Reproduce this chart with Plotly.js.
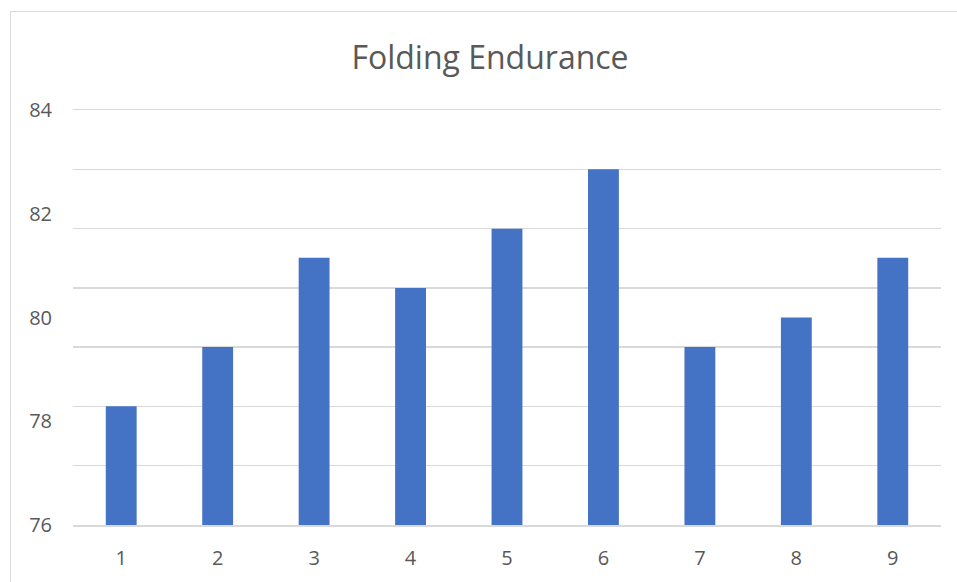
<!DOCTYPE html>
<html>
<head>
<meta charset="utf-8">
<script src="https://cdn.plot.ly/plotly-3.0.1.min.js"></script>
<style>
  html, body { margin: 0; padding: 0; background: #ffffff; }
  #wrap { position: relative; width: 957px; height: 582px; overflow: hidden; }
  #chart { position: absolute; left: 0; top: 0; width: 957px; height: 582px; }
  #frame { position: absolute; left: 10px; top: 11px; width: 960px; height: 600px;
           border-left: 1.5px solid #d9d9d9; border-top: 1.5px solid #d9d9d9; pointer-events: none; }
</style>
</head>
<body>
<div id="wrap">
  <div id="chart"></div>
  <div id="frame"></div>
</div>
<script>
// Folding endurance per sample
const samples = ['1', '2', '3', '4', '5', '6', '7', '8', '9'];
const endurance = [78.29, 79.43, 81.15, 80.57, 81.71, 82.86, 79.43, 80.0, 81.15];

// Value axis labels
const yTicks = [76, 78, 80, 82, 84];
const yRange = [76, 84];
// Horizontal gridline bands drawn on a separate overlay axis
const gridRange = [0, 7];

const labelColor = '#595959';
const gridColor = '#d9d9d9';
const fontFamily = '"Open Sans", "Noto Sans", sans-serif';

const trace = {
  type: 'bar',
  x: samples,
  y: endurance,
  marker: { color: '#4472C4' },
  width: 0.32,
  hoverinfo: 'x+y'
};

// Invisible carrier for the gridline axis
const gridTrace = {
  type: 'scatter',
  x: [samples[0]],
  y: [0],
  yaxis: 'y2',
  mode: 'markers',
  marker: { opacity: 0 },
  hoverinfo: 'skip',
  showlegend: false
};

const layout = {
  width: 957,
  height: 582,
  margin: { l: 73, r: 16, t: 110, b: 57 },
  paper_bgcolor: 'rgba(0,0,0,0)',
  plot_bgcolor: 'rgba(0,0,0,0)',
  showlegend: false,
  title: {
    text: 'Folding Endurance',
    font: { family: fontFamily, size: 32, color: labelColor },
    x: 0.512,
    xanchor: 'center',
    y: 0.9,
    yanchor: 'middle'
  },
  xaxis: {
    type: 'category',
    showgrid: false,
    zeroline: false,
    // top and bottom edge lines complete the gridline set
    showline: true,
    mirror: true,
    linecolor: gridColor,
    linewidth: 1.5,
    ticks: 'outside',
    ticklen: 14,
    tickcolor: 'rgba(0,0,0,0)',
    tickfont: { family: fontFamily, size: 20, color: labelColor }
  },
  yaxis: {
    range: yRange,
    tickvals: yTicks,
    ticktext: yTicks.map(String),
    showgrid: false,
    zeroline: false,
    showline: false,
    ticks: 'outside',
    ticklen: 16,
    tickcolor: 'rgba(0,0,0,0)',
    tickfont: { family: fontFamily, size: 20, color: labelColor }
  },
  yaxis2: {
    range: gridRange,
    tickvals: [1, 2, 3, 4, 5, 6],
    overlaying: 'y',
    side: 'left',
    showgrid: true,
    gridcolor: gridColor,
    gridwidth: 1.5,
    zeroline: false,
    showline: false,
    showticklabels: false,
    ticks: ''
  }
};

Plotly.newPlot('chart', [gridTrace, trace], layout, { displayModeBar: false, staticPlot: true });
</script>
</body>
</html>
